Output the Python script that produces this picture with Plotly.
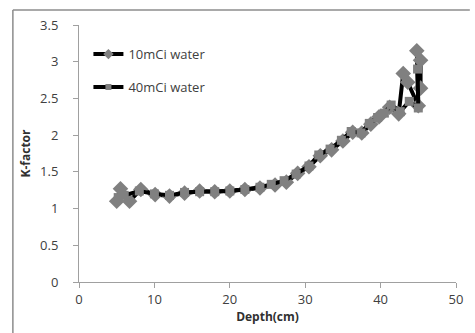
import plotly.graph_objects as go

# 10mCi water (diamonds)
depth_10 = [5.0, 5.5, 6.7, 8.2, 10.1, 12.0, 14.0, 16.0, 18.0, 20.0, 22.0, 24.0, 26.0,
            27.5, 29.0, 30.5, 32.0, 33.5, 35.0, 36.3, 37.5, 38.7, 39.8, 41.2, 42.4,
            43.0, 43.6, 45.0, 44.8, 45.3, 45.3]
kfac_10 = [1.10, 1.27, 1.10, 1.26, 1.19, 1.17, 1.21, 1.24, 1.23, 1.24, 1.26, 1.28, 1.32,
           1.36, 1.48, 1.57, 1.72, 1.80, 1.92, 2.04, 2.03, 2.15, 2.25, 2.38, 2.29,
           2.84, 2.72, 2.40, 3.15, 3.02, 2.64]

# 40mCi water (squares)
depth_40 = [5.2, 6.0, 8.0, 10.0, 12.0, 14.0, 16.0, 18.0, 20.0, 22.0, 24.0, 25.5,
            27.2, 28.8, 30.5, 31.8, 33.3, 34.8, 36.1, 37.4, 38.5, 39.6, 40.5, 41.4,
            42.6, 43.8, 45.0, 44.9]
kfac_40 = [1.15, 1.18, 1.24, 1.20, 1.18, 1.22, 1.23, 1.23, 1.24, 1.26, 1.29, 1.33,
           1.38, 1.47, 1.58, 1.73, 1.81, 1.93, 2.05, 2.03, 2.16, 2.24, 2.30, 2.41,
           2.32, 2.46, 2.37, 2.90]

series_names = ["10mCi water", "40mCi water"]
x_ticks = [0, 10, 20, 30, 40, 50]
y_ticks = [0, 0.5, 1, 1.5, 2, 2.5, 3, 3.5]
y_labels = ["0", "0.5", "1", "1.5", "2", "2.5", "3", "3.5"]

font_family = "Open Sans, DejaVu Sans, sans-serif"
grey = "#808080"

fig = go.Figure()
fig.add_trace(go.Scatter(
    x=depth_10, y=kfac_10, mode="lines+markers", name=series_names[0],
    showlegend=False, legendgroup="a",
    line=dict(color="black", width=4),
    marker=dict(symbol="diamond", size=12, color=grey),
))
fig.add_trace(go.Scatter(
    x=depth_40, y=kfac_40, mode="lines+markers", name=series_names[1],
    showlegend=False, legendgroup="b",
    line=dict(color="black", width=4),
    marker=dict(symbol="square", size=9, color=grey),
))
# legend entries (small markers like the original)
fig.add_trace(go.Scatter(
    x=[None], y=[None], mode="lines+markers", name=series_names[0], legendgroup="a",
    line=dict(color="black", width=4),
    marker=dict(symbol="diamond", size=8, color=grey),
))
fig.add_trace(go.Scatter(
    x=[None], y=[None], mode="lines+markers", name=series_names[1], legendgroup="b",
    line=dict(color="black", width=4),
    marker=dict(symbol="square", size=6, color=grey),
))

fig.update_layout(
    width=475, height=333,
    margin=dict(l=79, r=14, t=25, b=51),
    paper_bgcolor="white", plot_bgcolor="white",
    font=dict(family=font_family, size=13, color="#404040"),
    showlegend=True,
    legend=dict(x=0.025, y=0.945, xanchor="left", yanchor="top",
                bgcolor="rgba(0,0,0,0)", font=dict(size=13, color="#404040"),
                tracegroupgap=13, traceorder="grouped"),
    xaxis=dict(range=[0, 50], tickmode="array", tickvals=x_ticks,
               showgrid=False, zeroline=False, showline=True,
               linecolor="#a0a0a0", linewidth=1, ticks="outside",
               ticklen=5, tickcolor="#a0a0a0",
               tickfont=dict(size=13, color="#404040"),
               title=dict(text="<b>Depth(cm)</b>", font=dict(size=12, color="#303030"),
                          standoff=4)),
    yaxis=dict(range=[0, 3.5], tickmode="array", tickvals=y_ticks, ticktext=y_labels,
               showgrid=False, zeroline=False, showline=True,
               linecolor="#a0a0a0", linewidth=1, ticks="outside",
               ticklen=5, tickcolor="#a0a0a0", ticklabelstandoff=12,
               tickfont=dict(size=13, color="#404040"),
               title=dict(text="<b>K-factor</b>", font=dict(size=12, color="#303030"),
                          standoff=6)),
    shapes=[
        dict(type="line", xref="paper", yref="paper",
             x0=(12 - 79) / 382, x1=(475 - 79) / 382, y0=(282 - 10) / 257, y1=(282 - 10) / 257,
             line=dict(color="#8c8c8c", width=1.5)),
        dict(type="line", xref="paper", yref="paper",
             x0=(12 - 79) / 382, x1=(12 - 79) / 382, y0=(282 - 10) / 257, y1=(282 - 340) / 257,
             line=dict(color="#8c8c8c", width=1.5)),
    ],
)

fig.write_html("out.html")
